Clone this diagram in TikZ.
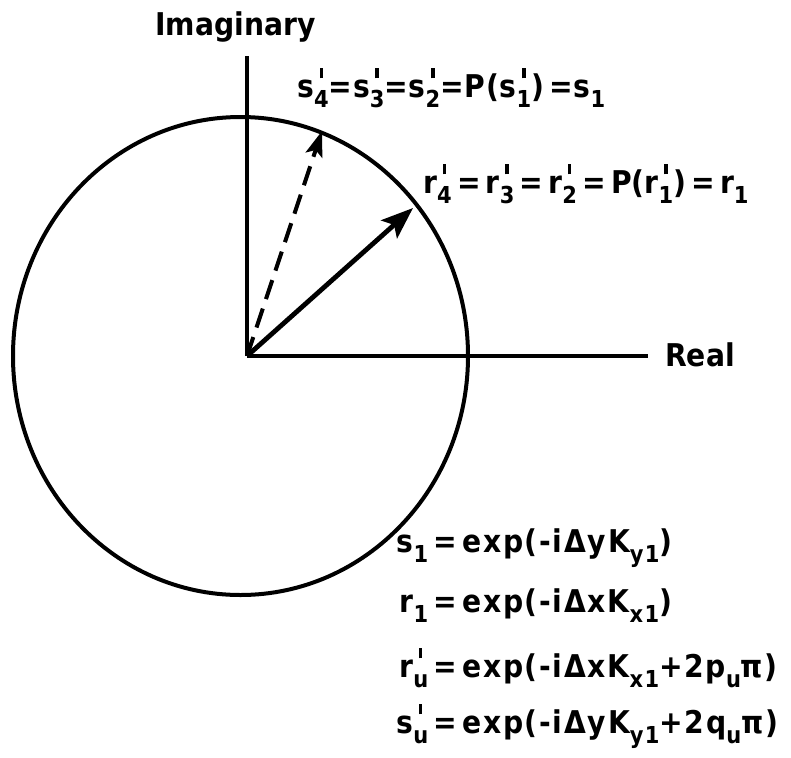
\documentclass[tikz,border=0pt]{standalone}
\usepackage{fontspec}
\setmainfont{DejaVu Sans Bold}[FakeStretch=0.9]
\newfontfamily\spaceda{DejaVu Sans Bold}[FakeStretch=0.9, LetterSpace=2.5]
\newfontfamily\spacedb{DejaVu Sans Bold}[FakeStretch=0.9, LetterSpace=5.5]
\usetikzlibrary{arrows.meta}
\newsavebox\sbbox
\newcommand{\subf}{\fontsize{17.5}{18}\selectfont}
\newcommand{\dn}[1]{\raisebox{-7.5pt}{\subf #1}}
\newcommand{\dnp}[1]{\sbox\sbbox{\subf #1}\rlap{\hbox to\wd\sbbox{\hss\rule[14pt]{2.6pt}{7.5pt}\hss}}\raisebox{-7.5pt}{\usebox\sbbox}}
\tikzset{
  lbl/.style={inner sep=0pt, font=\fontsize{23.5}{26}\selectfont},
  lbla/.style={inner sep=0pt, font=\spaceda\fontsize{23.5}{26}\selectfont},
  lblb/.style={inner sep=0pt, font=\spacedb\fontsize{23.5}{26}\selectfont},
  axis/.style={line width=3.6pt},
  ring/.style={line width=3pt},
  vec/.style={line width=3.6pt, -{Stealth[length=24pt,width=18pt,inset=5pt]}},
  dvec/.style={line width=3pt, dash pattern=on 15pt off 7.5pt, -{Stealth[length=19pt,width=13pt,inset=4pt]}}
}
\begin{document}
\begin{tikzpicture}[x=0.75pt,y=-0.75pt]
\fill[white] (0,0) rectangle (791,757);
\useasboundingbox (0,0) rectangle (791,757);
\coordinate (O) at (247,356);
\coordinate (ytop) at (247,56);
\coordinate (xend) at (648,356);
\coordinate (rtip) at (413,208);
\coordinate (stip) at (322,131);
\draw[ring] (240.5,356) ellipse [x radius=227.5, y radius=239];
\draw[axis] (O) -- (ytop);
\draw[axis] (O) -- (xend);
\draw[vec] (O) -- (rtip);
\draw[dvec] (O) -- (stip);
\node[lbl, anchor=base west] (imag) at (155,35) {Imaginary};
\node[lbl, anchor=base west] (real) at (665,366) {Real};
\node[lbla, anchor=base west] (seq) at (297,97) {s\dnp{4}=s\dnp{3}=s\dnp{2}=P(s\dnp{1})\,=s\dn{1}};
\node[lbl, anchor=base west] (req) at (423,193) {r\dnp{4}\,=\,r\dnp{3}\,=\,r\dnp{2}\,=\,P(r\dnp{1})\,=\,r\dn{1}};
\node[lblb, anchor=base west] (e1) at (462,552) {\llap{s\dn{1}\,=\,}exp(-iΔyK\dn{y1})};
\node[lblb, anchor=base west] (e2) at (462,612) {\llap{r\dn{1}\,=\,}exp(-iΔxK\dn{x1})};
\node[lblb, anchor=base west] (e3) at (462,677) {\llap{r\dnp{u}\,=\,}exp(-iΔxK\dn{x1}+2p\dn{u}π)};
\node[lblb, anchor=base west] (e4) at (462,733) {\llap{s\dnp{u}\,=\,}exp(-iΔyK\dn{y1}+2q\dn{u}π)};
\end{tikzpicture}
\end{document}
